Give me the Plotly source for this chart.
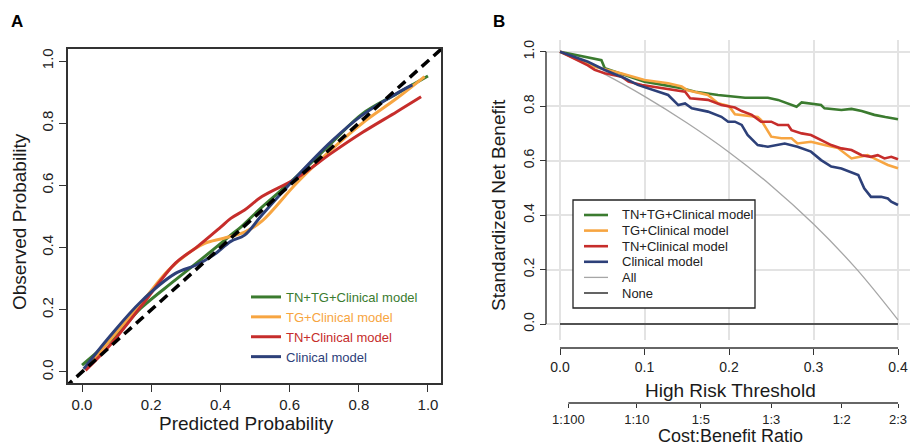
import plotly.graph_objects as go

# ---------------- DATA ----------------
model_names = ["TN+TG+Clinical model", "TG+Clinical model", "TN+Clinical model", "Clinical model"]
model_colors = ["#3b7b2f", "#f7a541", "#c62d2b", "#2d4079"]

# Panel A: calibration curves (predicted vs observed probability)
cal_green_x = [0.0, 0.1, 0.17, 0.27, 0.37, 0.43, 0.46, 0.52, 0.62, 0.72, 0.81, 0.91, 1.0]
cal_green_y = [0.022, 0.12, 0.205, 0.296, 0.385, 0.44, 0.467, 0.53, 0.628, 0.735, 0.83, 0.895, 0.952]
cal_orange_x = [0.01, 0.17, 0.25, 0.32, 0.355, 0.41, 0.47, 0.52, 0.62, 0.72, 0.81, 0.91, 0.99]
cal_orange_y = [0.01, 0.22, 0.328, 0.392, 0.414, 0.43, 0.45, 0.485, 0.607, 0.714, 0.80, 0.88, 0.95]
cal_red_x = [0.01, 0.08, 0.17, 0.27, 0.33, 0.40, 0.43, 0.47, 0.52, 0.62, 0.72, 0.81, 0.91, 0.98]
cal_red_y = [0.005, 0.085, 0.21, 0.35, 0.40, 0.465, 0.494, 0.521, 0.564, 0.623, 0.703, 0.77, 0.837, 0.885]
cal_blue_x = [0.005, 0.08, 0.17, 0.27, 0.33, 0.38, 0.43, 0.47, 0.52, 0.62, 0.72, 0.81, 0.91, 0.955]
cal_blue_y = [0.01, 0.114, 0.226, 0.317, 0.344, 0.376, 0.42, 0.44, 0.505, 0.628, 0.741, 0.826, 0.896, 0.923]
ideal_x = [-0.05, 1.05]
ideal_y = [-0.05, 1.05]
cal_ticks = [0.0, 0.2, 0.4, 0.6, 0.8, 1.0]

# Panel B: decision curves (standardized net benefit)
dca_green_t = [0, 0.03, 0.049, 0.053, 0.077, 0.1, 0.144, 0.16, 0.187, 0.207, 0.219, 0.246, 0.258, 0.28, 0.286,
               0.309, 0.313, 0.333, 0.345, 0.357, 0.372, 0.385, 0.4]
dca_green_v = [1.0, 0.982, 0.969, 0.939, 0.914, 0.89, 0.866, 0.853, 0.841, 0.835, 0.831, 0.831, 0.823, 0.798, 0.814,
               0.804, 0.792, 0.786, 0.79, 0.782, 0.768, 0.76, 0.752]
dca_orange_t = [0, 0.041, 0.073, 0.1, 0.128, 0.144, 0.151, 0.175, 0.187, 0.2, 0.207, 0.219, 0.234, 0.238, 0.25,
                0.262, 0.274, 0.281, 0.297, 0.313, 0.329, 0.345, 0.357, 0.364, 0.376, 0.388, 0.4]
dca_orange_v = [1.0, 0.945, 0.92, 0.896, 0.884, 0.872, 0.858, 0.841, 0.811, 0.80, 0.77, 0.765, 0.76, 0.749, 0.688,
                0.682, 0.682, 0.663, 0.669, 0.657, 0.646, 0.608, 0.614, 0.62, 0.602, 0.584, 0.572]
dca_red_t = [0, 0.033, 0.041, 0.053, 0.073, 0.081, 0.097, 0.124, 0.148, 0.154, 0.175, 0.191, 0.207, 0.215, 0.227,
             0.238, 0.25, 0.258, 0.27, 0.274, 0.286, 0.297, 0.309, 0.321, 0.333, 0.345, 0.357, 0.368, 0.376,
             0.384, 0.392, 0.4]
dca_red_v = [1.0, 0.95, 0.933, 0.921, 0.908, 0.89, 0.878, 0.866, 0.853, 0.829, 0.823, 0.804, 0.795, 0.782, 0.768,
             0.743, 0.743, 0.731, 0.731, 0.712, 0.70, 0.694, 0.676, 0.657, 0.645, 0.639, 0.62, 0.614, 0.62,
             0.608, 0.614, 0.605]
dca_blue_t = [0, 0.033, 0.053, 0.077, 0.092, 0.112, 0.128, 0.14, 0.148, 0.156, 0.167, 0.175, 0.191, 0.199, 0.207,
              0.215, 0.222, 0.234, 0.246, 0.258, 0.266, 0.281, 0.297, 0.309, 0.321, 0.333, 0.349, 0.353, 0.36,
              0.368, 0.38, 0.388, 0.392, 0.4]
dca_blue_v = [1.0, 0.963, 0.933, 0.902, 0.878, 0.859, 0.841, 0.804, 0.81, 0.792, 0.786, 0.78, 0.761, 0.743, 0.743,
              0.731, 0.694, 0.657, 0.651, 0.657, 0.663, 0.651, 0.633, 0.602, 0.578, 0.571, 0.553, 0.547, 0.498,
              0.467, 0.467, 0.461, 0.449, 0.437]
dca_all_t = [0.0, 0.05, 0.1, 0.15, 0.2, 0.25, 0.3, 0.35, 0.4]
dca_all_v = [1.0, 0.922, 0.836, 0.739, 0.631, 0.508, 0.367, 0.205, 0.015]
dca_none_t = [0.0, 0.4]
dca_none_v = [0.0, 0.0]
risk_ticks = [0.0, 0.1, 0.2, 0.3, 0.4]
nb_ticks = [0.0, 0.2, 0.4, 0.6, 0.8, 1.0]
cost_benefit_labels = ["1:100", "1:10", "1:5", "1:3", "1:2", "2:3"]
cost_benefit_pos = [int(l.split(":")[0]) / (int(l.split(":")[0]) + int(l.split(":")[1])) for l in cost_benefit_labels]

# ---------------- LAYOUT HELPERS ----------------
W, H = 910, 447
def px(x):
    return x / W
def py(y):
    return 1 - y / H

FONT = "Liberation Sans, Arial, Helvetica, sans-serif"
AXC = "#333333"

fig = go.Figure()

# Panel A traces
cal_series = [(cal_green_x, cal_green_y), (cal_orange_x, cal_orange_y), (cal_red_x, cal_red_y), (cal_blue_x, cal_blue_y)]
for (xs, ys), name, col in zip(cal_series, model_names, model_colors):
    fig.add_trace(go.Scatter(x=xs, y=ys, mode="lines", line=dict(color=col, width=3, shape="spline", smoothing=1.0),
                             name=f"<span style='color:{col}'>{name}</span>", legend="legend",
                             xaxis="x", yaxis="y", hoverinfo="skip"))
fig.add_trace(go.Scatter(x=ideal_x, y=ideal_y, mode="lines", line=dict(color="black", width=3.5, dash="10px,6px"),
                         showlegend=False, xaxis="x", yaxis="y", hoverinfo="skip"))

# Panel B traces
fig.add_trace(go.Scatter(x=dca_all_t, y=dca_all_v, mode="lines", line=dict(color="#a6a6a6", width=1.3, shape="spline"),
                         showlegend=False, xaxis="x2", yaxis="y2", hoverinfo="skip"))
fig.add_trace(go.Scatter(x=dca_none_t, y=dca_none_v, mode="lines", line=dict(color="#222222", width=1.4),
                         showlegend=False, xaxis="x2", yaxis="y2", hoverinfo="skip"))
dca_series = [(dca_green_t, dca_green_v), (dca_orange_t, dca_orange_v), (dca_red_t, dca_red_v), (dca_blue_t, dca_blue_v)]
for (xs, ys), name, col in zip(dca_series, model_names, model_colors):
    fig.add_trace(go.Scatter(x=xs, y=ys, mode="lines", line=dict(color=col, width=2.6),
                             showlegend=False, xaxis="x2", yaxis="y2", hoverinfo="skip"))
# carrier for cost:benefit axis
fig.add_trace(go.Scatter(x=cost_benefit_pos, y=[None] * len(cost_benefit_pos), mode="lines",
                         showlegend=False, xaxis="x3", yaxis="y2", hoverinfo="skip"))

tickfont_a = dict(family=FONT, size=15, color="#222")
tickfont_b = dict(family=FONT, size=14, color="#222")
tickfont_c = dict(family=FONT, size=13, color="#222")

# B x-range from pixel geometry: 0 at 560px, 0.4 at 898px
bx_scale = (898 - 560) / 0.4
bx_range = [(546 - 560) / bx_scale, (910 - 560) / bx_scale]
by_scale = (324 - 51.7) / 1.0
by_range = [(324 - 340) / by_scale, (324 - 40) / by_scale]

fig.update_layout(
    width=W, height=H, margin=dict(l=0, r=0, t=0, b=0),
    paper_bgcolor="white", plot_bgcolor="white",
    font=dict(family=FONT, color="#222"),
    xaxis=dict(domain=[px(68), px(441)], range=[-0.0405, 1.0376], anchor="y",
               showline=True, mirror=True, linecolor=AXC, linewidth=1.5,
               ticks="outside", ticklen=7, tickwidth=1.3, tickcolor=AXC,
               tickvals=cal_ticks, tickformat=".1f", tickfont=tickfont_a,
               showgrid=False, zeroline=False),
    yaxis=dict(domain=[py(383), py(49)], range=[-0.0354, 1.0386], anchor="x",
               showline=True, mirror=True, linecolor=AXC, linewidth=1.5,
               ticks="outside", ticklen=7, tickwidth=1.3, tickcolor=AXC,
               tickvals=cal_ticks, tickformat=".1f", tickfont=tickfont_a, tickangle=-90,
               showgrid=False, zeroline=False),
    xaxis2=dict(domain=[px(546), 1.0], range=bx_range, anchor="free", position=py(348),
                showline=False, ticks="outside", ticklen=6, tickwidth=1.3, tickcolor=AXC,
                tickvals=risk_ticks, tickformat=".1f", tickfont=tickfont_b,
                showgrid=True, gridcolor="#e3e3e3", gridwidth=1.5, zeroline=False),
    yaxis2=dict(domain=[py(340), py(40)], range=by_range, anchor="free", position=px(546),
                showline=False, ticks="outside", ticklen=6, tickwidth=1.3, tickcolor=AXC,
                tickvals=nb_ticks, tickformat=".1f", tickfont=tickfont_b, tickangle=-90,
                showgrid=True, gridcolor="#e3e3e3", gridwidth=1.5, zeroline=False),
    xaxis3=dict(overlaying="x2", range=bx_range, anchor="free", position=py(403),
                showline=False, ticks="outside", ticklen=4, tickwidth=1.3, tickcolor=AXC,
                tickvals=cost_benefit_pos, ticktext=cost_benefit_labels, tickfont=tickfont_c,
                showgrid=False, zeroline=False),
    legend=dict(x=px(246), y=py(282), xanchor="left", yanchor="top", bgcolor="rgba(0,0,0,0)",
                font=dict(family=FONT, size=13), borderwidth=0, traceorder="normal"),
    showlegend=True,
)

shapes = []
# R-style axis lines for panel B
shapes.append(dict(type="line", xref="x2", yref="paper", x0=risk_ticks[0], x1=risk_ticks[-1],
                   y0=py(348), y1=py(348), line=dict(color=AXC, width=1.4)))
shapes.append(dict(type="line", xref="paper", yref="y2", x0=px(546), x1=px(546),
                   y0=nb_ticks[0], y1=nb_ticks[-1], line=dict(color=AXC, width=1.4)))
shapes.append(dict(type="line", xref="x3", yref="paper", x0=cost_benefit_pos[0], x1=cost_benefit_pos[-1],
                   y0=py(403), y1=py(403), line=dict(color=AXC, width=1.4)))
# manual legend for panel B
legB_names = model_names + ["All", "None"]
legB_colors = model_colors + ["#a6a6a6", "#222222"]
legB_widths = [2.6] * 4 + [1.3, 1.4]
shapes.append(dict(type="rect", xref="paper", yref="paper", x0=px(573), x1=px(755), y0=py(308), y1=py(200),
                   line=dict(color="#222", width=1.3), fillcolor="white", layer="above"))
annotations = []
for i, (n, c, w) in enumerate(zip(legB_names, legB_colors, legB_widths)):
    yy = 215 + 15.6 * i
    shapes.append(dict(type="line", xref="paper", yref="paper", x0=px(584), x1=px(608), y0=py(yy), y1=py(yy),
                       line=dict(color=c, width=w), layer="above"))
    annotations.append(dict(text=n, x=px(620), y=py(yy), xref="paper", yref="paper", xanchor="left",
                            yanchor="middle", showarrow=False, font=dict(family=FONT, size=13, color="#222")))

# axis titles and panel letters
title_font = dict(family=FONT, size=19, color="#1a1a1a")
annotations += [
    dict(text="Predicted Probability", x=px(247), y=py(423), xref="paper", yref="paper", showarrow=False,
         xanchor="center", yanchor="middle", font=title_font),
    dict(text="Observed Probability", x=px(20), y=py(222), xref="paper", yref="paper", showarrow=False,
         xanchor="center", yanchor="middle", textangle=-90, font=title_font),
    dict(text="High Risk Threshold", x=px(730), y=py(390), xref="paper", yref="paper", showarrow=False,
         xanchor="center", yanchor="middle", font=title_font),
    dict(text="Cost:Benefit Ratio", x=px(730), y=py(447), xref="paper", yref="paper", showarrow=False,
         xanchor="center", yanchor="bottom", borderpad=0, font=dict(family=FONT, size=18, color="#1a1a1a")),
    dict(text="Standardized Net Benefit", x=px(498), y=py(205), xref="paper", yref="paper", showarrow=False,
         xanchor="center", yanchor="middle", textangle=-90, font=title_font),
    dict(text="<b>A</b>", x=px(17), y=py(22), xref="paper", yref="paper", showarrow=False,
         xanchor="center", yanchor="middle", font=dict(family=FONT, size=17, color="black")),
    dict(text="<b>B</b>", x=px(499), y=py(22), xref="paper", yref="paper", showarrow=False,
         xanchor="center", yanchor="middle", font=dict(family=FONT, size=17, color="black")),
]
fig.update_layout(shapes=shapes, annotations=annotations)

fig.write_html("out.html", config={"displayModeBar": False},
               post_script="document.body.style.margin='0px';document.body.style.overflow='hidden';")
